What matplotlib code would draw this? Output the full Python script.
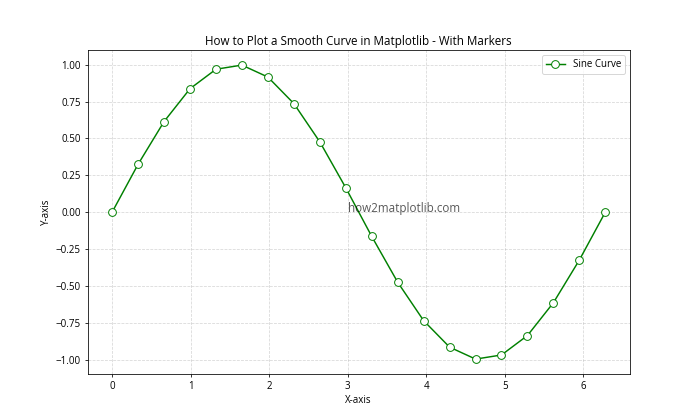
import matplotlib.pyplot as plt
import numpy as np

plt.rcParams['font.family'] = ['Open Sans', 'DejaVu Sans']

# 20 sample points between 0 and 2*pi
x_vals = [0.000, 0.331, 0.661, 0.992, 1.323, 1.653, 1.984, 2.315, 2.646, 2.976,
          3.307, 3.638, 3.968, 4.299, 4.630, 4.960, 5.291, 5.622, 5.952, 6.283]
y_vals = [0.000, 0.325, 0.614, 0.837, 0.969, 0.997, 0.916, 0.736, 0.476, 0.165,
          -0.165, -0.476, -0.736, -0.916, -0.997, -0.969, -0.837, -0.614, -0.325, 0.000]

fig, ax = plt.subplots(figsize=(10, 6), dpi=70)
ax.plot(x_vals, y_vals, color='green', marker='o', markersize=8,
        markerfacecolor='white', markeredgecolor='green', label='Sine Curve')
ax.set_title('How to Plot a Smooth Curve in Matplotlib - With Markers')
ax.set_xlabel('X-axis')
ax.set_ylabel('Y-axis')
ax.legend()
ax.grid(True, linestyle='--', alpha=0.5)
ax.text(3, 0, 'how2matplotlib.com', fontsize=12, color='black', alpha=0.65)
fig.savefig('out.png')
